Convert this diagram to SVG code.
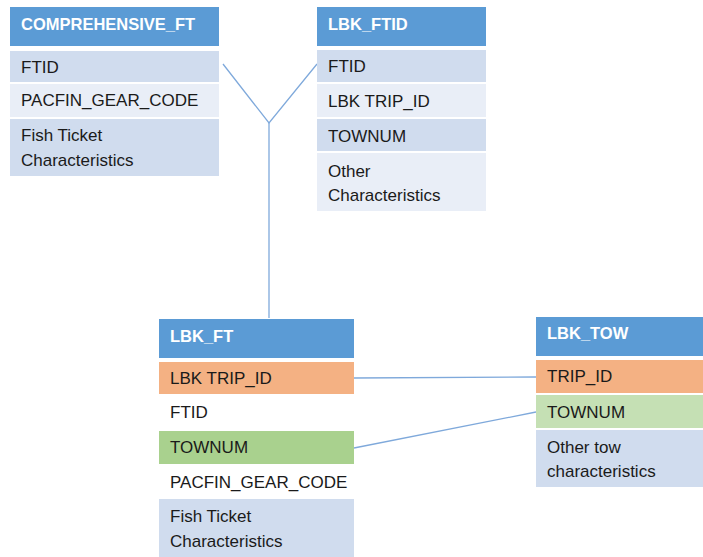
<svg xmlns="http://www.w3.org/2000/svg" width="703" height="557" viewBox="0 0 703 557">
<style>
.hd{fill:#5B9BD5}
.dk{fill:#D0DCEE}
.lt{fill:#E9EEF7}
.or{fill:#F4B183}
.gr{fill:#A9D18E}
.lg{fill:#C5E0B4}
text{font-family:"Liberation Sans",Arial,sans-serif;font-size:17px;fill:#1a1a1a}
.ht{font-weight:bold;fill:#ffffff;font-size:16.5px}
.cn{stroke:#7FA9DB;stroke-width:1.3;fill:none}
</style>
<rect width="703" height="557" fill="#ffffff"/>
<g id="connectors">
<polyline class="cn" points="223,64 269,123 317,64"/>
<line class="cn" x1="269" y1="123" x2="269" y2="318"/>
<line class="cn" x1="354" y1="378" x2="536" y2="377"/>
<line class="cn" x1="354" y1="448" x2="536" y2="412"/>
</g>
<g id="comprehensive_ft">
<rect class="hd" x="10" y="7" width="209" height="39"/>
<text class="ht" x="21" y="30">COMPREHENSIVE_FT</text>
<rect class="dk" x="10" y="51" width="209" height="31"/>
<text x="21" y="73">FTID</text>
<rect class="lt" x="10" y="84" width="209" height="33"/>
<text x="21" y="106">PACFIN_GEAR_CODE</text>
<rect class="dk" x="10" y="119" width="209" height="57"/>
<text x="21" y="141">Fish Ticket</text>
<text x="21" y="166">Characteristics</text>
</g>
<g id="lbk_ftid">
<rect class="hd" x="317" y="7" width="169" height="39"/>
<text class="ht" x="328" y="30">LBK_FTID</text>
<rect class="dk" x="317" y="50" width="169" height="32"/>
<text x="328" y="72">FTID</text>
<rect class="lt" x="317" y="84" width="169" height="33"/>
<text x="328" y="107">LBK TRIP_ID</text>
<rect class="dk" x="317" y="119" width="169" height="32"/>
<text x="328" y="142">TOWNUM</text>
<rect class="lt" x="317" y="153" width="169" height="58"/>
<text x="328" y="177">Other</text>
<text x="328" y="201">Characteristics</text>
</g>
<g id="lbk_ft">
<rect class="hd" x="159" y="319" width="195" height="39"/>
<text class="ht" x="170" y="342">LBK_FT</text>
<rect class="or" x="159" y="362" width="195" height="32"/>
<text x="170" y="384">LBK TRIP_ID</text>
<text x="170" y="418">FTID</text>
<rect class="gr" x="159" y="431" width="195" height="33"/>
<text x="170" y="453">TOWNUM</text>
<text x="170" y="488">PACFIN_GEAR_CODE</text>
<rect class="dk" x="159" y="499" width="195" height="58"/>
<text x="170" y="522">Fish Ticket</text>
<text x="170" y="547">Characteristics</text>
</g>
<g id="lbk_tow">
<rect class="hd" x="536" y="317" width="167" height="39"/>
<text class="ht" x="547" y="339">LBK_TOW</text>
<rect class="or" x="536" y="360" width="167" height="33"/>
<text x="547" y="382">TRIP_ID</text>
<rect class="lg" x="536" y="395" width="167" height="33"/>
<text x="547" y="418">TOWNUM</text>
<rect class="dk" x="536" y="430" width="167" height="57"/>
<text x="547" y="453">Other tow</text>
<text x="547" y="477">characteristics</text>
</g>
</svg>
